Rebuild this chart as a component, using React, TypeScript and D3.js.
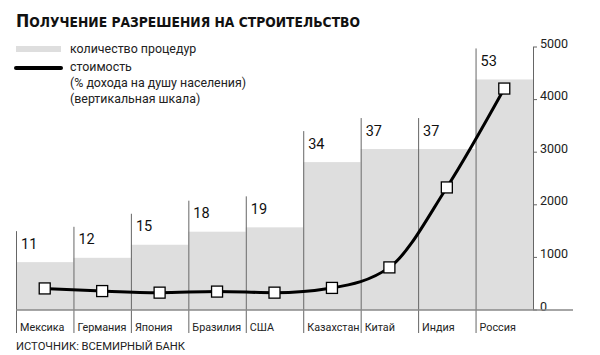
import React from "react";
import * as d3 from "d3";

const countries = ["Мексика", "Германия", "Япония", "Бразилия", "США", "Казахстан", "Китай", "Индия", "Россия"];
const procedures = [11, 12, 15, 18, 19, 34, 37, 37, 53];
const cost = [410, 360, 330, 350, 330, 420, 810, 2330, 4210];
const costTicks = [0, 1000, 2000, 3000, 4000, 5000];

const W = 600, H = 355;
const baseY = 310;

export default function App() {
  const x = d3.scaleBand<string>().domain(countries).range([16, 533]).padding(0);
  const yCount = d3.scaleLinear().domain([0, 60]).range([baseY, baseY - 261]);
  const yCost = d3.scaleLinear().domain([0, 5000]).range([baseY, 47]);
  const line = d3
    .line<number>()
    .x((_, i) => (x(countries[i]) as number) + x.bandwidth() / 2)
    .y((d) => yCost(d))
    .curve(d3.curveMonotoneX);
  const font = "Roboto, 'Open Sans', sans-serif";
  return (
    <svg width={W} height={H} style={{ position: "absolute", left: 0, top: 0, background: "#fff" }} fontFamily={font}>
      <text x={16} y={27} fill="#111" fontWeight={900} fontFamily="'DejaVu Sans', sans-serif" textLength={344} lengthAdjust="spacingAndGlyphs">
        <tspan fontSize={18}>П</tspan>
        <tspan fontSize={14}>ОЛУЧЕНИЕ РАЗРЕШЕНИЯ НА СТРОИТЕЛЬСТВО</tspan>
      </text>
      {/* legend */}
      <rect x={16} y={46} width={45} height={6} fill="#dedede" />
      <text x={70} y={52.5} fontSize={12.4} fill="#222">количество процедур</text>
      <line x1={16} x2={61} y1={68} y2={68} stroke="#000" strokeWidth={4} strokeLinecap="round" />
      <text x={70} y={70.5} fontSize={12.4} fill="#222">стоимость</text>
      <text x={70} y={86.5} fontSize={12.4} fill="#222">(% дохода на душу населения)</text>
      <text x={70} y={102.5} fontSize={12.4} fill="#222">(вертикальная шкала)</text>
      {/* bars */}
      {countries.map((c, i) => {
        const x0 = x(c) as number;
        const top = yCount(procedures[i]);
        return <rect key={c} x={x0} y={top} width={x.bandwidth()} height={baseY - top} fill="#dedede" />;
      })}
      {countries.map((c, i) => {
        const x0 = x(c) as number;
        const top = yCount(procedures[i]);
        return (
          <g key={c + "s"}>
            <line x1={x0 + 0.5} x2={x0 + 0.5} y1={top - 31} y2={333} stroke="#666" strokeWidth={1} />
            <text x={x0 + 5} y={top - 13.5} fontSize={14.5} fontWeight={400} fill="#111">{procedures[i]}</text>
            <text x={x0 + 4} y={331} fontSize={10.8} fill="#222">{c}</text>
          </g>
        );
      })}
      {/* right axis */}
      <line x1={533.5} x2={533.5} y1={yCost(5000)} y2={baseY} stroke="#666" strokeWidth={1} />
      {costTicks.map((t) => (
        <g key={t}>
          <line x1={533} x2={537} y1={yCost(t)} y2={yCost(t)} stroke="#666" strokeWidth={1} />
          <text x={540} y={yCost(t) + 0.5} fontSize={12.5} fill="#222">{t}</text>
        </g>
      ))}
      <line x1={16} x2={573} y1={baseY} y2={baseY} stroke="#888" strokeWidth={1.5} />
      {/* cost line */}
      <path d={line(cost) as string} fill="none" stroke="#000" strokeWidth={3} />
      {cost.map((v, i) => (
        <rect
          key={i}
          x={(x(countries[i]) as number) + x.bandwidth() / 2 - 5.5}
          y={yCost(v) - 5.5}
          width={11}
          height={11}
          fill="#fff"
          stroke="#000"
          strokeWidth={1.3}
        />
      ))}
      <text x={16} y={350} fontSize={11.2} fill="#222">ИСТОЧНИК: ВСЕМИРНЫЙ БАНК</text>
    </svg>
  );
}
